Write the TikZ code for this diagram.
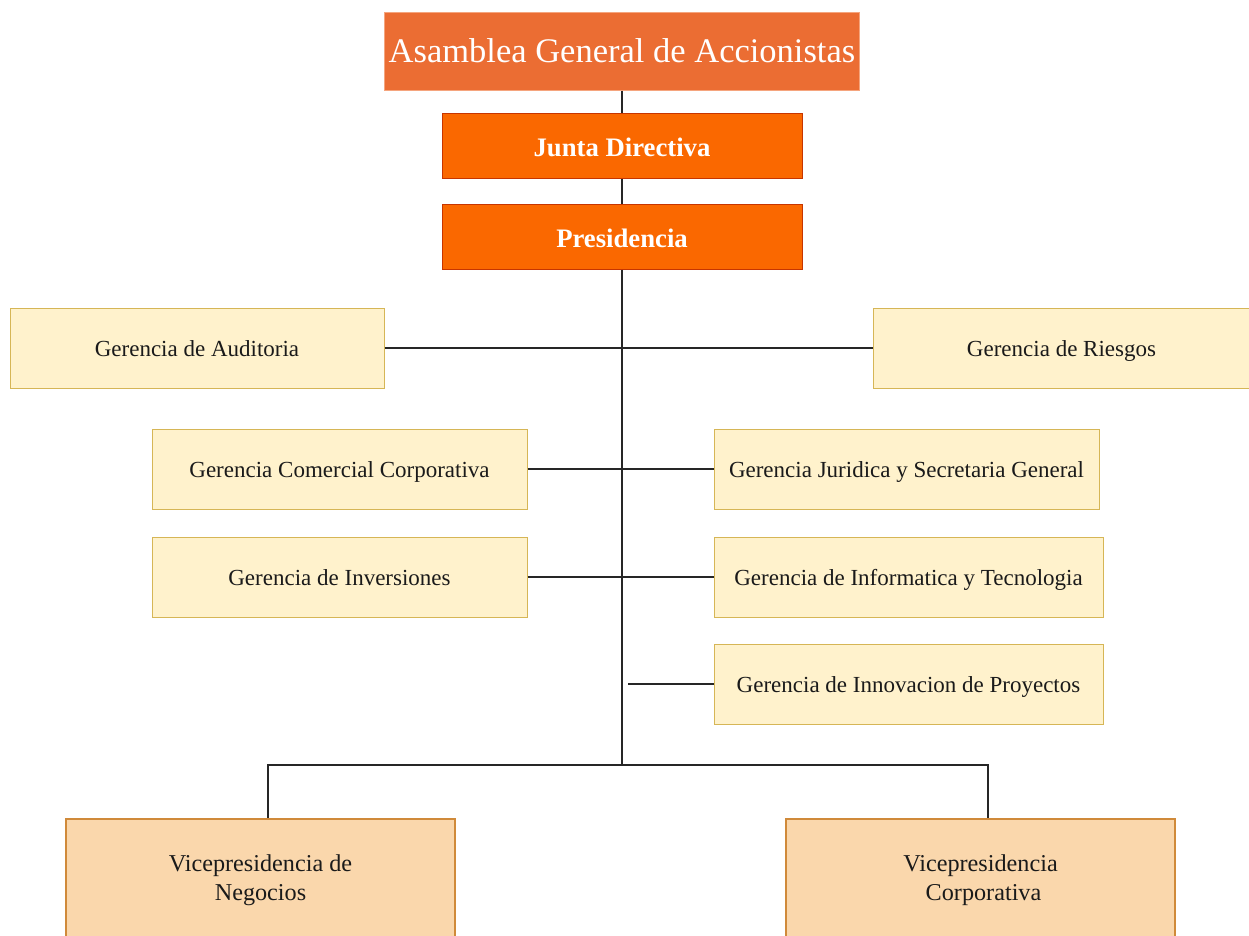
\documentclass[tikz,border=0pt]{standalone}
\usepackage{fontspec}
\setmainfont{Liberation Serif}
\definecolor{asmfill}{HTML}{EB6D33}
\definecolor{asmline}{HTML}{F5A57E}
\definecolor{orgfill}{HTML}{FA6800}
\definecolor{orgline}{HTML}{C73500}
\definecolor{gerfill}{HTML}{FFF2CC}
\definecolor{gerline}{HTML}{D6B656}
\definecolor{vpfill}{HTML}{FAD7AC}
\definecolor{vpline}{HTML}{D08A3A}
\definecolor{txt}{HTML}{1A1A1A}
\tikzset{
  asmbox/.style={draw=asmline, fill=asmfill, line width=1pt, text=white, inner sep=0pt,
    font=\fontsize{34.5}{40}\selectfont},
  orgbox/.style={draw=orgline, fill=orgfill, line width=1pt, text=white, inner sep=0pt,
    minimum width=360pt, minimum height=65pt, text height=22pt, text depth=0pt,
    font=\fontsize{26.7}{32}\selectfont\bfseries},
  gerbox/.style={draw=gerline, fill=gerfill, line width=1pt, text=txt, inner sep=0pt,
    minimum height=80pt, text height=16pt, text depth=0pt,
    font=\fontsize{23}{28}\selectfont},
  vpbox/.style={draw=vpline, fill=vpfill, line width=1.2pt, text=txt, inner sep=0pt,
    minimum width=389pt, minimum height=122pt, align=center,
    font=\fontsize{24.2}{28.5}\selectfont},
  conn/.style={draw=black!85, line width=1.3pt}
}
\begin{document}
\begin{tikzpicture}[x=1pt, y=-1pt]
\useasboundingbox (0,0) rectangle (1249,935);
\clip (0,0) rectangle (1249,935);
\fill[white] (0,0) rectangle (1249,935);

% top of the hierarchy
\node[asmbox, minimum width=475pt, minimum height=78pt] (asm) at (622,51) {Asamblea General de Accionistas};
\node[orgbox] (jun) at (622,145.5) {Junta Directiva};
\node[orgbox] (pre) at (622,236.5) {Presidencia};

% staff departments
\node[gerbox, minimum width=374pt] (aud) at (197,348) {Gerencia de Auditoria};
\node[gerbox, minimum width=377pt] (rie) at (1061.5,348) {Gerencia de Riesgos};
\node[gerbox, minimum width=375pt] (com) at (339.5,469) {Gerencia Comercial Corporativa};
\node[gerbox, minimum width=385pt] (jur) at (906.5,469) {Gerencia Juridica y Secretaria General};
\node[gerbox, minimum width=375pt] (inv) at (339.5,577) {Gerencia de Inversiones};
\node[gerbox, minimum width=389pt] (inf) at (908.5,577) {Gerencia de Informatica y Tecnologia};
\node[gerbox, minimum width=389pt] (inn) at (908.5,684) {Gerencia de Innovacion de Proyectos};

% vice presidencies
\node[vpbox] (vpn) at (260.5,880) {Vicepresidencia de\\Negocios};
\node[vpbox] (vpc) at (980.5,880) {Vicepresidencia\\\hspace*{6pt}Corporativa};

% connectors
\coordinate (bus) at (622,765);
\coordinate (innc) at (628,684);
\draw[conn] (asm.south) -- (jun.north);
\draw[conn] (jun.south) -- (pre.north);
\draw[conn] (pre.south) -- (bus);
\draw[conn] (aud.east) -- (rie.west);
\draw[conn] (com.east) -- (jur.west);
\draw[conn] (inv.east) -- (inf.west);
\draw[conn] (innc) -- (inn.west);
\draw[conn] (bus) -| ([xshift=7.5pt]vpn.north);
\draw[conn] (bus) -| ([xshift=7.5pt]vpc.north);
\end{tikzpicture}
\end{document}
